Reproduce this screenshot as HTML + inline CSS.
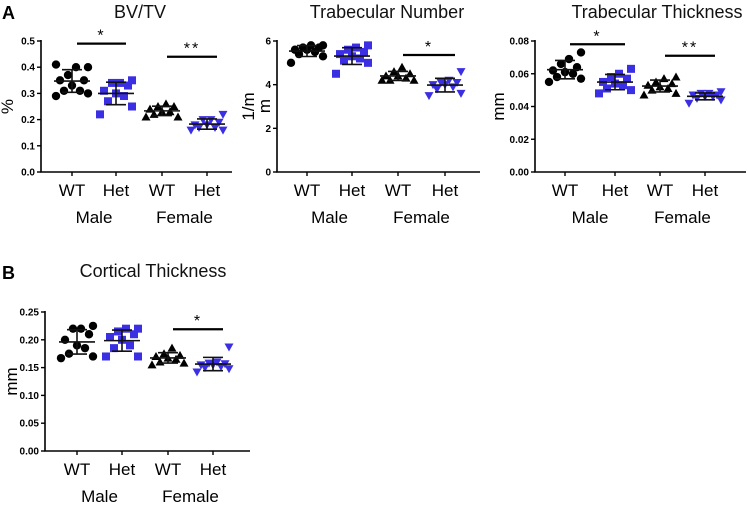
<!DOCTYPE html>
<html><head><meta charset="utf-8"><style>
body{margin:0;background:#fff;}
svg{display:block;font-family:"Liberation Sans",Arial,sans-serif;}
</style></head><body>
<svg id="fig" width="747" height="506" viewBox="0 0 747 506" xmlns="http://www.w3.org/2000/svg"></svg>
<script>
// ---- data ----
const categories = ["WT","Het","WT","Het"];
const sexLabels = ["Male","Female"];
const bvtvValues = [
 [0.29,0.30,0.31,0.31,0.33,0.35,0.35,0.37,0.40,0.40,0.41],
 [0.22,0.25,0.27,0.29,0.30,0.31,0.33,0.34,0.34,0.35],
 [0.21,0.21,0.22,0.23,0.23,0.24,0.25,0.25,0.26],
 [0.16,0.16,0.17,0.17,0.18,0.18,0.19,0.20,0.20,0.22]];
const bvtvTicks = ["0.0","0.1","0.2","0.3","0.4","0.5"];
const tbnValues = [
 [5.0,5.3,5.4,5.5,5.6,5.6,5.7,5.7,5.8,5.8],
 [4.5,5.0,5.1,5.2,5.3,5.4,5.5,5.6,5.7,5.8],
 [4.2,4.2,4.2,4.3,4.4,4.4,4.5,4.6,4.8],
 [3.5,3.6,3.8,3.9,4.0,4.0,4.1,4.1,4.2,4.6]];
const tbnTicks = ["0","2","4","6"];
const tbthValues = [
 [0.055,0.057,0.058,0.060,0.061,0.062,0.064,0.066,0.069,0.073],
 [0.048,0.050,0.051,0.053,0.054,0.055,0.057,0.058,0.060,0.063],
 [0.047,0.048,0.050,0.051,0.052,0.053,0.054,0.055,0.057,0.058],
 [0.042,0.044,0.045,0.046,0.046,0.047,0.047,0.048,0.048,0.049]];
const tbthTicks = ["0.00","0.02","0.04","0.06","0.08"];
const ctthValues = [
 [0.167,0.170,0.175,0.185,0.190,0.200,0.210,0.220,0.220,0.225],
 [0.170,0.170,0.185,0.190,0.200,0.205,0.210,0.215,0.220,0.220],
 [0.155,0.158,0.160,0.165,0.167,0.170,0.172,0.175,0.185],
 [0.142,0.148,0.150,0.152,0.155,0.155,0.157,0.158,0.160,0.187]];
const ctthTicks = ["0.00","0.05","0.10","0.15","0.20","0.25"];
// significance: [fromGroup, toGroup, yValue, label]
const bvtvSig = [[0,1,0.49,"*"],[2,3,0.44,"**"]];
const tbnSig = [[2,3,5.36,"*"]];
const tbthSig = [[0,1,0.078,"*"],[2,3,0.071,"**"]];
const ctthSig = [[2,3,0.219,"*"]];

const NS="http://www.w3.org/2000/svg";
const svg=document.getElementById('fig');
function mk(tag,attrs,parent,text){const e=document.createElementNS(NS,tag);for(const k in attrs)e.setAttribute(k,attrs[k]);if(text!==undefined)e.textContent=text;(parent||svg).appendChild(e);return e;}
const BLACK="#000", BLUE="#3b2fe3";
const colors=[BLACK,BLUE,BLACK,BLUE];
const shapes=["circle","square","tri","tridown"];
const jitterUnit=[-2,2,-1,1,0,-1.5,1.5,-0.5,0.5,2,-2];

function panel(cfg){
 const g=mk('g',{});
 
 
 const ymax=parseFloat(cfg.ticks[cfg.ticks.length-1]);
 const y=v=>cfg.y0-(v/ymax)*(cfg.y0-cfg.y1);
 const x=i=>cfg.gx[i];
 const t=mk('text',{x:cfg.tx,y:cfg.ty,'font-size':18,'text-anchor':'middle',fill:'#111'},g,cfg.title);
 
 
 const yl=mk('text',{x:cfg.ylx,y:(cfg.y0+cfg.y1)/2,'font-size':17,'text-anchor':'middle',transform:`rotate(-90 ${cfg.ylx} ${(cfg.y0+cfg.y1)/2})`},g,cfg.ylabel);
 
 
 const ax=mk('path',{d:`M${cfg.ax} ${cfg.y1-1}V${cfg.y0}H${cfg.axEnd}`,stroke:'#000','stroke-width':1.6,fill:'none'},g);
 
 
 cfg.ticks.forEach(tk=>{
  const v=parseFloat(tk),yy=y(v);
  mk('line',{x1:cfg.ax-4,x2:cfg.ax,y1:yy,y2:yy,stroke:'#000','stroke-width':1.4},g);
  const tl=mk('text',{x:cfg.ax-6,y:yy+3.5,'font-size':10,'font-weight':'bold','text-anchor':'end'},g,tk);
  
  
 });
 categories.forEach((c,i)=>{
  mk('line',{x1:x(i),x2:x(i),y1:cfg.y0,y2:cfg.y0+4,stroke:'#000','stroke-width':1.4},g);
  const cl=mk('text',{x:x(i),y:cfg.y0+24,'font-size':17,'text-anchor':'middle'},g,c);
  
  
 });
 sexLabels.forEach((s,k)=>{
  const sl=mk('text',{x:(x(2*k)+x(2*k+1))/2,y:cfg.y0+51,'font-size':17,'text-anchor':'middle'},g,s);
  
  
 });
 cfg.data.forEach((arr,gi)=>{
  const n=arr.length;
  const sorted=arr.slice().sort((a,b)=>a-b);
  sorted.forEach((v,i)=>{
   const off=jitterUnit[i%jitterUnit.length]*8;
   const px=x(gi)+off, py=y(v), col=colors[gi], s=shapes[gi];
   let m;
   if(s==='circle')m=mk('circle',{cx:px,cy:py,r:4.2,fill:col},g);
   else if(s==='square')m=mk('rect',{x:px-4,y:py-4,width:8,height:8,fill:col},g);
   else if(s==='tri')m=mk('polygon',{points:`${px},${py-4.5} ${px+4.5},${py+3.5} ${px-4.5},${py+3.5}`,fill:col},g);
   else m=mk('polygon',{points:`${px},${py+4.5} ${px+4.5},${py-3.5} ${px-4.5},${py-3.5}`,fill:col},g);
   
   
  });
  const mean=arr.reduce((a,b)=>a+b,0)/n;
  const sd=Math.sqrt(arr.reduce((a,b)=>a+(b-mean)*(b-mean),0)/(n-1));
  const e=mk('path',{d:`M${x(gi)-18} ${y(mean)}H${x(gi)+18}M${x(gi)} ${y(mean+sd)}V${y(mean-sd)}M${x(gi)-10} ${y(mean+sd)}H${x(gi)+10}M${x(gi)-10} ${y(mean-sd)}H${x(gi)+10}`,stroke:'#111','stroke-width':1.6,fill:'none'},g);
  
  
 });
 cfg.sig.forEach(sg=>{
  const x1=x(sg[0])+5,x2=x(sg[1])+10,yy=y(sg[2]);
  const l=mk('line',{x1:x1,x2:x2,y1:yy,y2:yy,stroke:'#000','stroke-width':2.2},g);
  
  
  const st=mk('text',{x:(x1+x2)/2,y:yy-3,'font-size':16,'text-anchor':'middle','letter-spacing':2},g,sg[3]);
  
  
 });
}

const la=mk('text',{x:2,y:19,'font-size':18,'font-weight':'bold'},svg,'A');


const lb=mk('text',{x:2,y:279,'font-size':18,'font-weight':'bold'},svg,'B');



panel({name:'bvtv-chart',title:'BV/TV',tx:140,ty:18,ylabel:'%',ylx:13,ax:41,axEnd:232,y0:172,y1:41,gx:[72,116,162,207],ticks:bvtvTicks,data:bvtvValues,sig:bvtvSig});
panel({name:'trabecular-number-chart',title:'Trabecular Number',tx:387,ty:18,ylabel:'1/m',ylx:254,ax:277,axEnd:480,y0:172,y1:41,gx:[307,352,398,445],ticks:tbnTicks,data:tbnValues,sig:tbnSig});
const mlab=mk('text',{x:270,y:106,'font-size':17,'text-anchor':'middle',transform:'rotate(-90 270 106)'},svg,'m');


panel({name:'trabecular-thickness-chart',title:'Trabecular Thickness',tx:657,ty:18,ylabel:'mm',ylx:504,ax:535,axEnd:746,y0:172,y1:41,gx:[565,615,660,705],ticks:tbthTicks,data:tbthValues,sig:tbthSig});
panel({name:'cortical-thickness-chart',title:'Cortical Thickness',tx:153,ty:277,ylabel:'mm',ylx:17,ax:45,axEnd:250,y0:451,y1:312,gx:[77,122,168,213],ticks:ctthTicks,data:ctthValues,sig:ctthSig});
</script>
</body></html>
